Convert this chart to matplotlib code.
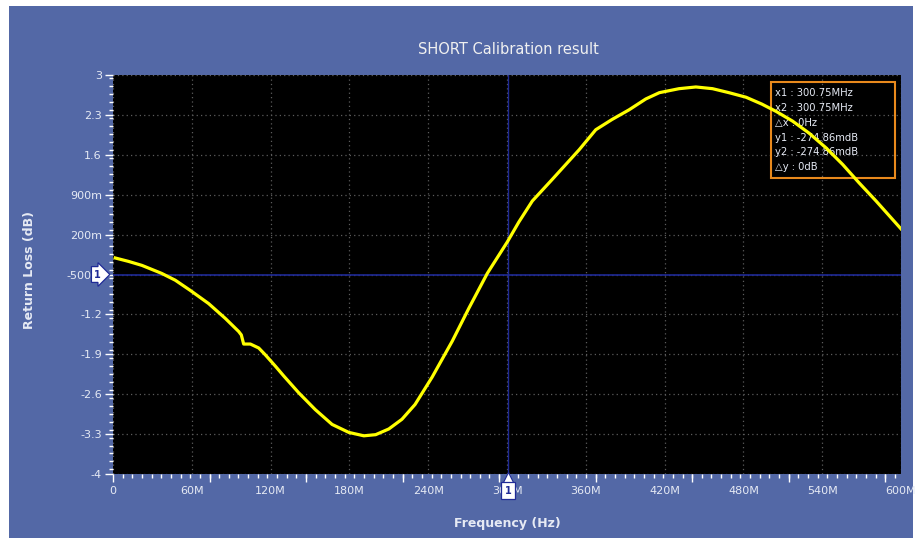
import matplotlib
matplotlib.use("Agg")
import matplotlib.pyplot as plt
from matplotlib.patches import Rectangle
from matplotlib.ticker import MultipleLocator, FixedLocator, FuncFormatter
from matplotlib.transforms import offset_copy

# frequency in MHz, return loss in dB
freq_mhz = [1.7, 11.8, 22, 37, 47.4, 58.9, 72.8, 85.5, 95.7, 97.7,
            99.5, 104.6, 111, 116, 123.7, 130, 141.4, 154, 166.8, 179.5,
            191, 200, 210, 220, 230, 243, 258.3, 271, 285, 300.2,
            309, 319.3, 334.5, 355, 367.6, 380, 393, 405.7, 416, 431,
            443.8, 456.5, 469, 482, 494, 505, 517.5, 530, 543, 555.6,
            568, 581, 600]
return_loss_db = [-0.21, -0.27, -0.34, -0.48, -0.60, -0.78, -1.01, -1.27, -1.50, -1.56,
                  -1.72, -1.72, -1.79, -1.91, -2.11, -2.28, -2.575, -2.87, -3.13, -3.27,
                  -3.33, -3.31, -3.21, -3.04, -2.78, -2.30, -1.67, -1.09, -0.48, 0.07,
                  0.42, 0.79, 1.17, 1.69, 2.04, 2.22, 2.39, 2.58, 2.69, 2.76,
                  2.79, 2.76, 2.69, 2.61, 2.49, 2.36, 2.19, 1.98, 1.72, 1.43,
                  1.11, 0.79, 0.30]

y_ticks = [3, 2.3, 1.6, 0.9, 0.2, -0.5, -1.2, -1.9, -2.6, -3.3, -4]
x_ticks = [0, 60, 120, 180, 240, 300, 360, 420, 480, 540, 600]

marker_freq = 300.75
marker_level = -0.5
marker_lines = ["x1 : 300.75MHz", "x2 : 300.75MHz", "\u25b3x : 0Hz",
                "y1 : -274.86mdB", "y2 : -274.86mdB", "\u25b3y : 0dB"]

PANEL = "#5368a6"
TEXT = "#e6eaf4"
MARKER_BLUE = "#1f2a96"

plt.rcParams["font.family"] = ["DejaVu Sans"]

fig = plt.figure(figsize=(9.16, 5.44), dpi=100, facecolor="white")
fig.add_artist(Rectangle((9 / 916, 6 / 544), 904 / 916, 532 / 544,
                         transform=fig.transFigure, facecolor=PANEL,
                         edgecolor="none", zorder=-10))

ax = fig.add_axes([113 / 916, 70 / 544, 788 / 916, 399 / 544])
ax.set_facecolor("black")
for s in ax.spines.values():
    s.set_visible(False)

ax.plot(freq_mhz, return_loss_db, color="#ffff00", lw=2.3, zorder=5,
        solid_joinstyle="round")

ax.set_xlim(0, 600)
ax.set_ylim(-4, 3)

ax.xaxis.set_major_locator(FixedLocator(x_ticks))
ax.yaxis.set_major_locator(FixedLocator(y_ticks))
ax.xaxis.set_minor_locator(MultipleLocator(7.35))
ax.yaxis.set_minor_locator(MultipleLocator(0.14))


def fmt_x(v, pos):
    return "0" if v == 0 else f"{int(v)}M"


def fmt_y(v, pos):
    if abs(v) < 1 and v != 0:
        return f"{int(round(v * 1000))}m"
    return f"{v:g}"


ax.xaxis.set_major_formatter(FuncFormatter(fmt_x))
ax.yaxis.set_major_formatter(FuncFormatter(fmt_y))

ax.tick_params(axis="x", which="major", length=0, pad=9, labelsize=8, labelcolor=TEXT)
ax.tick_params(axis="x", which="minor", length=3, width=1, color="white", direction="out")
ax.tick_params(axis="y", which="major", length=6, width=1, color="white", pad=2,
               labelsize=8, labelcolor=TEXT)
ax.tick_params(axis="y", which="minor", length=3, width=1, color="white")

# longer tick marks on the frequency axis
sec = ax.secondary_xaxis("bottom")
sec.xaxis.set_major_locator(MultipleLocator(73.5))
sec.tick_params(length=6, width=1, color="white", labelbottom=False)
for s in sec.spines.values():
    s.set_visible(False)

ax.grid(True, which="major", color="#5c5c5c", linestyle=(0, (1, 2.5)), lw=0.9)

# marker lines
ax.axvline(marker_freq, color=MARKER_BLUE, lw=1.0, zorder=3)
ax.axhline(marker_level, color=MARKER_BLUE, lw=1.2, zorder=3)

# marker flags
ax.annotate("1", xy=(0, marker_level), xycoords=("axes fraction", "data"),
            xytext=(-11, 0), textcoords="offset points", ha="center", va="center",
            fontsize=7, fontweight="bold", color=MARKER_BLUE, zorder=10,
            annotation_clip=False,
            bbox=dict(boxstyle="rarrow,pad=0.3", fc="white", ec=MARKER_BLUE, lw=0.9))
tri = offset_copy(ax.get_xaxis_transform(), fig=fig, x=0, y=-5, units="dots")
ax.plot([marker_freq], [0], marker="^", ms=10, color="white", mec=MARKER_BLUE,
        mew=0.8, transform=tri, clip_on=False, zorder=9)
ax.annotate("1", xy=(marker_freq, 0), xycoords=("data", "axes fraction"),
            xytext=(0, -12), textcoords="offset points", ha="center", va="center",
            fontsize=7, fontweight="bold", color=MARKER_BLUE, zorder=10,
            annotation_clip=False,
            bbox=dict(boxstyle="square,pad=0.35", fc="white", ec=MARKER_BLUE, lw=0.9))

# marker readout box
ax.add_patch(Rectangle((0.835, 0.7426), 0.157, 0.241, transform=ax.transAxes,
                       fill=False, ec="#e8891c", lw=1.5, zorder=4))
for i, line in enumerate(marker_lines):
    ax.text(0.840, 0.955 - i * 0.0373, line, transform=ax.transAxes,
            fontsize=7.2, color=TEXT, va="center", ha="left", zorder=4)

fig.text(508 / 916, 1 - 49 / 544, "SHORT Calibration result", ha="center",
         va="center", fontsize=10.5, color="#f0f0f0")
fig.text(30 / 916, 1 - 270 / 544, "Return Loss (dB)", ha="center", va="center",
         rotation=90, fontsize=9, fontweight="bold", color=TEXT)
fig.text(507 / 916, 1 - 524 / 544, "Frequency (Hz)", ha="center", va="center",
         fontsize=9, fontweight="bold", color=TEXT)

fig.savefig("out.png", dpi=100, facecolor=fig.get_facecolor())
